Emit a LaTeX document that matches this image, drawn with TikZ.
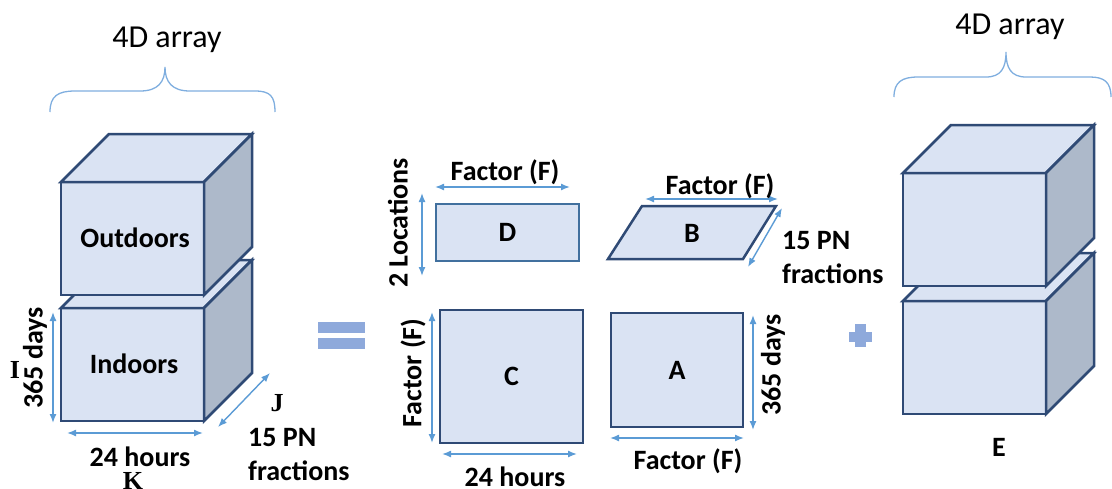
\documentclass[tikz,border=0pt]{standalone}
\usepackage{fontspec}
\setmainfont{Carlito}
\newfontfamily\timesfont{Liberation Serif}
\usepackage{tikz}
\usetikzlibrary{arrows.meta}

\definecolor{facefill}{HTML}{DAE3F3}
\definecolor{sidefill}{HTML}{ADB9CA}
\definecolor{edgeblue}{HTML}{2F4A75}
\definecolor{flatedge}{HTML}{41709E}
\definecolor{dimblue}{HTML}{5B9BD5}
\definecolor{bracecol}{HTML}{7FAEDF}
\definecolor{opblue}{HTML}{8EA9DB}

\begin{document}
\begin{tikzpicture}[x=1pt, y=-1pt,
  lbl/.style={font=\fontsize{28}{34}\selectfont\bfseries, inner sep=0pt},
  idx/.style={font=\fontsize{26}{30}\selectfont\timesfont\bfseries, inner sep=0pt},
  dim/.style={dimblue, line width=1.4pt, {Latex[length=9pt,width=7pt]}-{Latex[length=9pt,width=7pt]}},
  cube/.style={draw=edgeblue, line width=2.5pt},
  flat/.style={draw=edgeblue, fill=facefill, line width=2.5pt, inner sep=0pt}]
  \useasboundingbox (0,0) rectangle (1112,488);

  % braces over the two 4D arrays
  \draw[bracecol, line width=1.3pt] (50,112) .. controls (50,96) and (58,91) .. (75,91) -- (140,91)
    .. controls (158,91) and (165,82) .. (165,67) .. controls (165,82) and (172,91) .. (190,91)
    -- (255,91) .. controls (270,91) and (275,96) .. (275,112);
  \node[font=\fontsize{32}{36}\selectfont, inner sep=0pt] (arrL) at (167,40) {4D array};
  \draw[bracecol, line width=1.3pt] (894,97) .. controls (894,82) and (902,77) .. (918,77) -- (986,77)
    .. controls (1001,77) and (1006,68) .. (1006,52) .. controls (1006,68) and (1011,77) .. (1026,77)
    -- (1090,77) .. controls (1104,77) and (1111,82) .. (1111,97);
  \node[font=\fontsize{32}{36}\selectfont, inner sep=0pt] (arrR) at (1010,27) {4D array};

  % stacked cubes: left data, right residual
  \foreach \x/\y in {61/308, 61/182, 903/301, 903/173} {
    \draw[cube, fill=facefill] (\x,\y) rectangle ++(143,113);
    \draw[cube, fill=facefill] (\x,\y) -- ++(48,-48) -- ++(143,0) -- ++(-48,48) -- cycle;
    \draw[cube, fill=sidefill] (\x+143,\y) -- ++(48,-48) -- ++(0,113) -- ++(-48,48) -- cycle;
  }
  \node[lbl] (outdoors) at (135,238) {Outdoors};
  \node[lbl] (indoors) at (134,364) {Indoors};
  \node[lbl] (E) at (999,447) {E};

  % dimensions of the data array
  \coordinate (iTop) at (53,312);  \coordinate (iBot) at (53,423);
  \coordinate (kL) at (67,433);    \coordinate (kR) at (203,433);
  \coordinate (jL) at (218,427);   \coordinate (jR) at (270,373);
  \draw[dim] (iTop) -- (iBot);
  \draw[dim] (kL) -- (kR);
  \draw[dim] (jL) -- (jR);
  \node[lbl, rotate=90] (daysL) at (35,358) {365 days};
  \node[idx] (I) at (15,370) {I};
  \node[lbl] (hoursL) at (140,457) {24 hours};
  \node[idx] (K) at (133,481) {K};
  \node[idx] (J) at (277,403) {J};
  \node[lbl, anchor=west, align=left] (pnL) at (248,455) {15 PN\\fractions};

  % equals and plus
  \fill[opblue] (318,322) rectangle (365,333);
  \fill[opblue] (318,338) rectangle (365,349);
  \fill[opblue] (849,332) rectangle (872,342);
  \fill[opblue] (855,324) rectangle (866,347);

  % factor matrices
  \node[flat, draw=flatedge, minimum width=143, minimum height=57] (D) at (507.5,232.5) {};
  \node[lbl] at (D.center) {D};
  \coordinate (bTL) at (642,206); \coordinate (bTR) at (776,206);
  \coordinate (bBR) at (743,259); \coordinate (bBL) at (608,259);
  \draw[flat] (bTL) -- (bTR) -- (bBR) -- (bBL) -- cycle;
  \node[lbl] (B) at (692,233) {B};
  \node[flat, minimum width=143, minimum height=133] (C) at (511.5,376.5) {};
  \node[lbl] at (C.center) {C};
  \node[flat, minimum width=132, minimum height=114] (A) at (677,370) {};
  \node[lbl] at (A.center) {A};

  % their dimensions
  \coordinate (dfL) at (435,187);  \coordinate (dfR) at (570,187);
  \coordinate (locT) at (422,193); \coordinate (locB) at (422,276);
  \coordinate (bfL) at (645,199);  \coordinate (bfR) at (778,199);
  \coordinate (bjB) at (748,267);  \coordinate (bjT) at (782,208);
  \coordinate (cfT) at (432,312);  \coordinate (cfB) at (432,443);
  \coordinate (chL) at (442,454);  \coordinate (chR) at (577,454);
  \coordinate (adT) at (753,315);  \coordinate (adB) at (753,430);
  \coordinate (afL) at (610,438);  \coordinate (afR) at (744,438);
  \foreach \a/\b in {dfL/dfR, locT/locB, bfL/bfR, bjB/bjT, cfT/cfB, chL/chR, adT/adB, afL/afR}
    \draw[dim] (\a) -- (\b);
  \node[lbl] (dF) at (505,172) {Factor (F)};
  \node[lbl, rotate=90] (loc) at (398,223) {2 Locations};
  \node[lbl] (bF) at (720,186) {Factor (F)};
  \node[lbl, anchor=west, align=left] (pnB) at (782,258) {15 PN\\fractions};
  \node[lbl, rotate=90] (cF) at (413,373) {Factor (F)};
  \node[lbl] (hoursC) at (515,477) {24 hours};
  \node[lbl, rotate=90] (daysA) at (773,365) {365 days};
  \node[lbl] (aF) at (688,461) {Factor (F)};
\end{tikzpicture}
\end{document}
